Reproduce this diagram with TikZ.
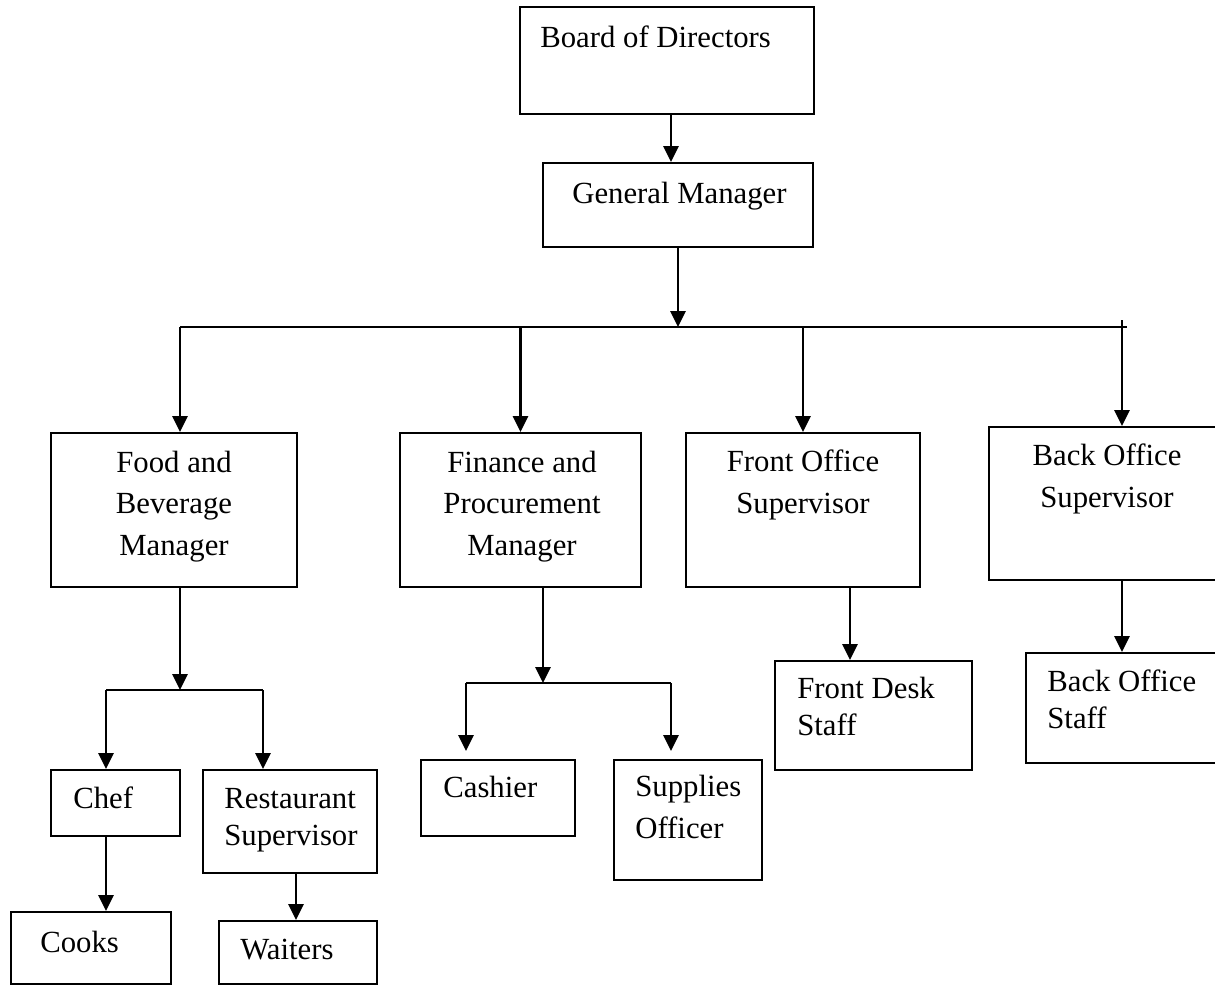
\documentclass[tikz,border=0pt]{standalone}
\usepackage{fontspec}
\setmainfont{Liberation Serif}
\usetikzlibrary{arrows.meta}
\tikzset{
  box/.style={draw, line width=1.1pt, inner sep=0pt},
  lbl/.style={inner sep=0pt, font=\fontsize{17.5}{23.5}\selectfont},
  tight/.style={font=\fontsize{17.5}{20.5}\selectfont},
  arr/.style={line width=1.5pt, -{Triangle[length=9pt,width=8.5pt]}},
  bar/.style={line width=1.2pt}
}
\begin{document}
\begin{tikzpicture}[x=0.02cm, y=-0.02cm]
    \useasboundingbox (0,0) rectangle (1215,985);

    % Boxes
    \node[box, minimum width=5.88cm, minimum height=2.14cm] (bod) at (667,60.5) {};
    \node[box, minimum width=5.40cm, minimum height=1.68cm] (gm) at (678,205) {};
    \node[box, minimum width=4.92cm, minimum height=3.08cm] (fbm) at (174,510) {};
    \node[box, minimum width=4.82cm, minimum height=3.08cm] (fpm) at (520.5,510) {};
    \node[box, minimum width=4.68cm, minimum height=3.08cm] (fos) at (803,510) {};
    \node[box, minimum width=4.82cm, minimum height=3.06cm] (bos) at (1109.5,503.5) {};
    \node[box, minimum width=2.58cm, minimum height=1.32cm] (chef) at (115.5,803) {};
    \node[box, minimum width=3.48cm, minimum height=2.06cm] (rs) at (290,821.5) {};
    \node[box, minimum width=3.20cm, minimum height=1.44cm] (cooks) at (91,948) {};
    \node[box, minimum width=3.16cm, minimum height=1.26cm] (waiters) at (298,952.5) {};
    \node[box, minimum width=3.08cm, minimum height=1.52cm] (cashier) at (498,798) {};
    \node[box, minimum width=2.96cm, minimum height=2.40cm] (supplies) at (688,820) {};
    \node[box, minimum width=3.94cm, minimum height=2.18cm] (fds) at (873.5,715.5) {};
    \node[box, minimum width=4.08cm, minimum height=2.20cm] (bostaff) at (1128,708) {};

    % Labels (multi-line ones sit on their last baseline)
    \node[lbl, anchor=base west] (bodtxt) at (540,47) {Board of Directors};
    \node[lbl, anchor=base west] (gmtxt) at (572,203) {General Manager};
    \node[lbl, align=center, anchor=base] (fbmtxt) at (174,555) {Food and\\Beverage\\Manager};
    \node[lbl, align=center, anchor=base] (fpmtxt) at (522,555) {Finance and\\Procurement\\Manager};
    \node[lbl, align=center, anchor=base] (fostxt) at (803,513) {Front Office\\Supervisor};
    \node[lbl, align=center, anchor=base] (bostxt) at (1107,507) {Back Office\\Supervisor};
    \node[lbl, anchor=base west] (cheftxt) at (73,808) {Chef};
    \node[lbl, tight, align=left, anchor=base west] (rstxt) at (224,845) {Restaurant\\Supervisor};
    \node[lbl, anchor=base west] (cookstxt) at (40,952) {Cooks};
    \node[lbl, anchor=base west] (waiterstxt) at (240,959) {Waiters};
    \node[lbl, anchor=base west] (cashiertxt) at (443,797) {Cashier};
    \node[lbl, align=left, anchor=base west] (suppliestxt) at (635,838) {Supplies\\Officer};
    \node[lbl, tight, align=left, anchor=base west] (fdstxt) at (797,735) {Front Desk\\Staff};
    \node[lbl, tight, align=left, anchor=base west] (bostafftxt) at (1047,728) {Back Office\\Staff};

    % Joints
    \coordinate (c1) at (671,0);
    \coordinate (barL) at (180,327);
    \coordinate (barR) at (1127,327);
    \coordinate (tick) at (1122,320);
    \coordinate (fbL) at (106,690);
    \coordinate (fbR) at (263,690);
    \coordinate (fbJ) at (180,690);
    \coordinate (fpL) at (466,683);
    \coordinate (fpR) at (671,683);
    \coordinate (fpJ) at (543,683);
    \coordinate (fdJ) at (850,0);
    \coordinate (wtJ) at (296,0);

    % Edges
    \draw[arr] (bod.south -| c1) -- (gm.north -| c1);
    \draw[arr] (gm.south) -- (gm.south |- barL);
    \draw[bar] (barL) -- (barR);
    \draw[arr] (barL) -- (barL |- fbm.north);
    \draw[arr] (fpm.north |- barL) -- (fpm.north);
    \draw[arr] (fos.north |- barL) -- (fos.north);
    \draw[arr] (tick) -- (tick |- bos.north);

    \draw[arr] (fbm.south -| fbJ) -- (fbJ);
    \draw[bar] (fbL) -- (fbR);
    \draw[arr] (fbL) -- (fbL |- chef.north);
    \draw[arr] (fbR) -- (fbR |- rs.north);
    \draw[arr] (chef.south -| fbL) -- (cooks.north -| fbL);
    \draw[arr] (rs.south -| wtJ) -- (waiters.north -| wtJ);

    \draw[arr] (fpm.south -| fpJ) -- (fpJ);
    \draw[bar] (fpL) -- (fpR);
    \draw[arr, shorten >=0.16cm] (fpL) -- (fpL |- cashier.north);
    \draw[arr, shorten >=0.16cm] (fpR) -- (fpR |- supplies.north);

    \draw[arr] (fos.south -| fdJ) -- (fds.north -| fdJ);
    \draw[arr] (bos.south -| tick) -- (bostaff.north -| tick);
\end{tikzpicture}
\end{document}
